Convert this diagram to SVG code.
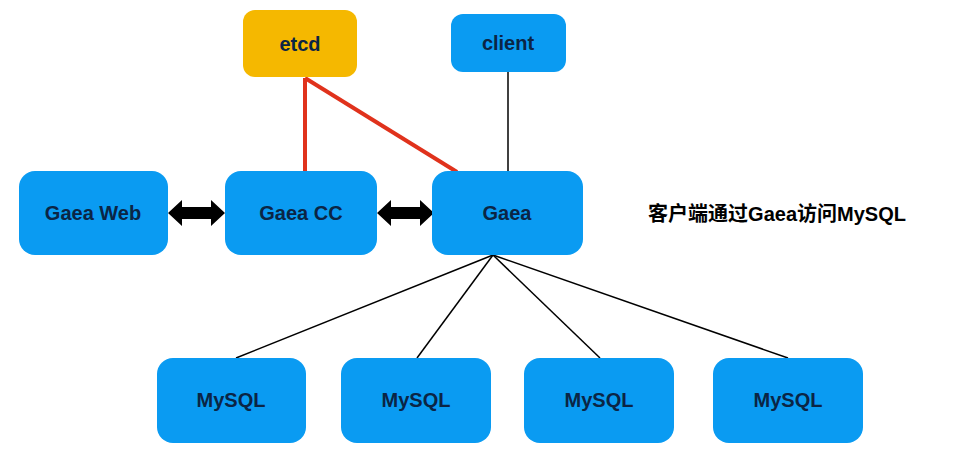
<svg xmlns="http://www.w3.org/2000/svg" width="965" height="467" viewBox="0 0 965 467">
<style>
.b{fill:#0a9bf2}
.t{font-family:"Liberation Sans",Arial,sans-serif;font-weight:bold;font-size:20px;fill:#0b2545;text-anchor:middle;dominant-baseline:central}
.l{stroke:#000;stroke-width:1.5;fill:none}
.r{stroke:#e0321c;stroke-width:4;fill:none}
</style>
<defs>
<path id="da" d="M0,0 L14,-13 L14,-6 L43,-6 L43,-13 L57,0 L43,13 L43,6 L14,6 L14,13 Z" fill="#000"/>
</defs>
<rect width="965" height="467" fill="#fff"/>
<g id="connectors">
<line class="r" x1="305" y1="78" x2="305" y2="172"/>
<line class="r" x1="305" y1="78" x2="457" y2="172"/>
<line class="l" x1="508" y1="72" x2="508" y2="172"/>
<line class="l" x1="493" y1="255" x2="236" y2="358"/>
<line class="l" x1="493" y1="255" x2="417" y2="358"/>
<line class="l" x1="493" y1="255" x2="600" y2="358"/>
<line class="l" x1="493" y1="255" x2="788" y2="358"/>
<use href="#da" x="168" y="213"/>
<use href="#da" x="377" y="213"/>
</g>
<g id="etcd"><rect x="243" y="10" width="114" height="67" rx="12" fill="#f5b800"/><text class="t" x="300" y="44">etcd</text></g>
<g id="client"><rect class="b" x="451" y="14" width="115" height="58" rx="12"/><text class="t" x="508" y="43">client</text></g>
<g id="gaeaweb"><rect class="b" x="19" y="171" width="149" height="84" rx="16"/><text class="t" x="93" y="213">Gaea Web</text></g>
<g id="gaeacc"><rect class="b" x="225" y="171" width="152" height="84" rx="16"/><text class="t" x="301" y="213">Gaea CC</text></g>
<g id="gaea"><rect class="b" x="432" y="171" width="151" height="84" rx="16"/><text class="t" x="507" y="213">Gaea</text></g>
<text x="777" y="214" font-family="'Liberation Sans','Noto Sans CJK SC',sans-serif" font-weight="bold" font-size="20" text-anchor="middle" dominant-baseline="central" fill="#000">客户端通过Gaea访问MySQL</text>
<g id="mysql1"><rect class="b" x="157" y="358" width="149" height="85" rx="16"/><text class="t" x="231" y="400">MySQL</text></g>
<g id="mysql2"><rect class="b" x="341" y="358" width="150" height="85" rx="16"/><text class="t" x="416" y="400">MySQL</text></g>
<g id="mysql3"><rect class="b" x="524" y="358" width="150" height="85" rx="16"/><text class="t" x="599" y="400">MySQL</text></g>
<g id="mysql4"><rect class="b" x="713" y="358" width="150" height="85" rx="16"/><text class="t" x="788" y="400">MySQL</text></g>
</svg>
